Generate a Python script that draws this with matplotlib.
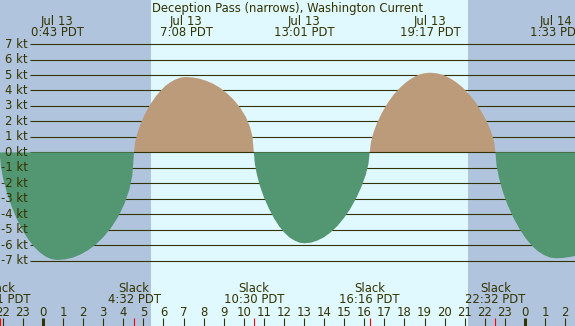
"""
Deception Pass (narrows) tidal current, Jul 13 - read off the NOAA-style plot.
"""
import numpy as np
import matplotlib
matplotlib.use("Agg")
import matplotlib.pyplot as plt

# current curve, hours from Jul 13 00:00 PDT and knots (flood +, ebb -)
hours = [
    -2.16, -2.10, -1.99, -1.81, -1.58, -1.30, -1.01, -0.72, -0.43, -0.14, 0.14, 0.43, 0.72,
    1.10, 1.48, 1.86, 2.24, 2.63, 3.01, 3.39, 3.77, 4.07, 4.30, 4.45, 4.53,
    4.58, 4.69, 4.84, 5.05, 5.31, 5.57, 5.83, 6.09, 6.35, 6.61, 6.87, 7.13,
    7.47, 7.80, 8.14, 8.48, 8.82, 9.15, 9.49, 9.83, 10.10, 10.30, 10.43, 10.50,
    10.55, 10.65, 10.80, 11.00, 11.26, 11.51, 11.76, 12.01, 12.26, 12.52, 12.77, 13.02,
    13.35, 13.67, 14.00, 14.32, 14.65, 14.97, 15.30, 15.62, 15.88, 16.08, 16.21, 16.27,
    16.33, 16.45, 16.63, 16.87, 17.17, 17.47, 17.78, 18.08, 18.38, 18.68, 18.98, 19.28,
    19.61, 19.93, 20.26, 20.58, 20.91, 21.23, 21.56, 21.88, 22.14, 22.34, 22.47, 22.53,
    22.59, 22.71, 22.89, 23.13, 23.44, 23.74, 24.04, 24.34, 24.64, 24.95, 25.25, 25.55,
    25.90, 26.30, 26.70,
]
knots = [
    0, -0.87, -1.68, -2.54, -3.43, -4.32, -5.05, -5.64, -6.12, -6.48, -6.74, -6.90, -6.95,
    -6.91, -6.80, -6.60, -6.32, -5.95, -5.47, -4.87, -4.10, -3.27, -2.40, -1.47, 0,
    0.61, 1.18, 1.78, 2.41, 3.03, 3.54, 3.95, 4.29, 4.54, 4.72, 4.84, 4.87,
    4.84, 4.76, 4.62, 4.43, 4.17, 3.83, 3.41, 2.87, 2.29, 1.68, 1.03, 0,
    -0.73, -1.42, -2.15, -2.90, -3.65, -4.27, -4.77, -5.17, -5.48, -5.69, -5.83, -5.87,
    -5.83, -5.69, -5.48, -5.17, -4.77, -4.27, -3.65, -2.90, -2.15, -1.42, -0.73, 0,
    0.64, 1.25, 1.88, 2.54, 3.20, 3.74, 4.18, 4.53, 4.80, 5.00, 5.11, 5.15,
    5.11, 5.00, 4.80, 4.53, 4.18, 3.74, 3.20, 2.54, 1.88, 1.25, 0.64, 0,
    -0.86, -1.66, -2.50, -3.38, -4.25, -4.97, -5.55, -6.02, -6.38, -6.63, -6.79, -6.84,
    -6.82, -6.74, -6.62,
]

# max current events (top labels)
max_dates = ["Jul 13", "Jul 13", "Jul 13", "Jul 13", "Jul 14"]
max_times = ["0:43", "7:08", "13:01", "19:17", "1:33"]
max_days = [0, 0, 0, 0, 1]

# slack water events (bottom labels)
slack_times = ["21:51", "4:32", "10:30", "16:16", "22:32"]
slack_days = [-1, 0, 0, 0, 0]

sunrise = "5:23"
sunset = "21:11"

kt_levels = list(range(-7, 8))
title = "Deception Pass (narrows), Washington Current"

TXT = "#333300"
DARK = "#b0c4de"
LIGHT = "#e0f8ff"
FLOOD = "#bb9b7a"
EBB = "#529672"
FS = 8.4


def to_hour(hhmm, day=0):
    h, m = hhmm.split(":")
    return day * 24 + int(h) + int(m) / 60


def main():
    W, H = 575, 326
    fig = plt.figure(figsize=(W / 100, H / 100), dpi=100)
    ax = fig.add_axes([0, 0, 1, 1])
    # pixel layout: hour 0 at x=43, 20.08 px/hour; 0 kt at y=152.4, 15.48 px/kt
    px_h, px_kt = 20.08, 15.48
    x0 = -43 / px_h
    x1 = (W - 43) / px_h
    ax.set_xlim(x0, x1)
    ax.set_ylim((152.4 - H) / px_kt, 152.4 / px_kt)
    ax.axis("off")

    def fy(py):  # pixel row -> axes fraction
        return 1 - py / H

    xt = ax.get_xaxis_transform()

    # day / night
    ax.axvspan(x0, x1, color=LIGHT, zorder=0, lw=0)
    ax.axvspan(x0, to_hour(sunrise), color=DARK, zorder=0.5, lw=0)
    ax.axvspan(to_hour(sunset), x1, color=DARK, zorder=0.5, lw=0)

    # knot grid and labels
    xg = (30 - 43) / px_h
    for k in kt_levels:
        ax.plot([xg, x1], [k, k], color=TXT, lw=0.8,
                zorder=2.5 if k == 0 else 1, solid_capstyle="butt")
        ax.text((28 - 43) / px_h, k, f"{k} kt", ha="right", va="center",
                fontsize=FS, color=TXT, zorder=5)

    h = np.array(hours)
    v = np.array(knots)
    ax.fill_between(h, v, 0, where=v >= 0, interpolate=True,
                    color=FLOOD, lw=0, zorder=2)
    ax.fill_between(h, v, 0, where=v <= 0, interpolate=True,
                    color=EBB, lw=0, zorder=3)

    # top labels
    ax.text(0.5, fy(11.7), title, transform=ax.transAxes, ha="center",
            va="baseline", fontsize=FS, color=TXT, zorder=5)
    for d, t, dd in zip(max_dates, max_times, max_days):
        x = to_hour(t, dd)
        ax.text(x, fy(25), d, transform=xt, ha="center", va="baseline",
                fontsize=FS, color=TXT, zorder=5)
        ax.text(x, fy(36), f"{t} PDT", transform=xt, ha="center",
                va="baseline", fontsize=FS, color=TXT, zorder=5)

    # bottom: slack labels, hour ticks
    for t, dd in zip(slack_times, slack_days):
        x = to_hour(t, dd)
        ax.text(x, fy(291.7), "Slack", transform=xt, ha="center",
                va="baseline", fontsize=FS, color=TXT, zorder=5)
        ax.text(x, fy(303.3), f"{t} PDT", transform=xt, ha="center",
                va="baseline", fontsize=FS, color=TXT, zorder=5)
        ax.vlines(x, 0, 8 / H, transform=xt, color="red", lw=0.8, zorder=5)

    for hr in range(-2, 27):
        ax.text(hr, fy(315.7), str(hr % 24), transform=xt, ha="center",
                va="baseline", fontsize=FS, color=TXT, zorder=5)
        lw = 2.2 if hr % 24 == 0 else 0.8
        ax.vlines(hr, 0, 8 / H, transform=xt, color=TXT, lw=lw, zorder=5)

    fig.savefig("out.png", dpi=100)


if __name__ == "__main__":
    main()
